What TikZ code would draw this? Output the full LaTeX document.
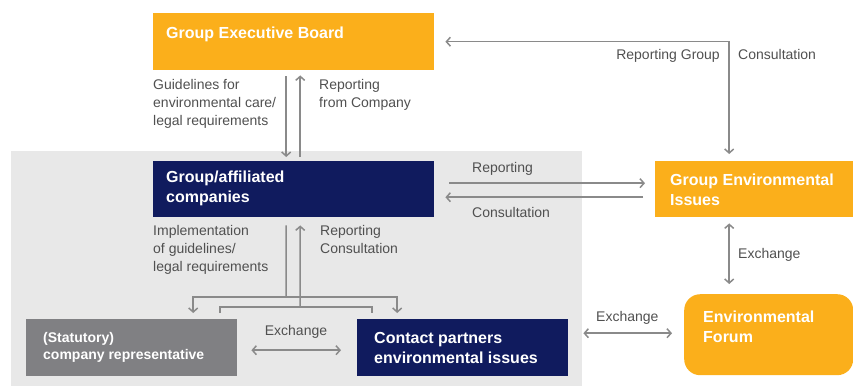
\documentclass[tikz,border=0pt]{standalone}
\usepackage{fontspec}
\setmainfont{Liberation Sans}
\usetikzlibrary{arrows.meta,calc}
\definecolor{orng}{HTML}{FBAF1B}
\definecolor{navy}{HTML}{101B5E}
\definecolor{boxgray}{HTML}{808083}
\definecolor{bggray}{HTML}{E8E8E8}
\definecolor{linegray}{HTML}{8A8A8A}
\definecolor{txtgray}{HTML}{505050}
\begin{document}
\begin{tikzpicture}[x=1pt,y=-1pt,
  box/.style={draw=none, inner sep=0pt, anchor=north west},
  btext/.style={anchor=west, inner sep=0pt, align=left, text=white, font=\fontsize{16}{20}\selectfont\bfseries},
  lbl/.style={inner sep=0pt, text=txtgray, font=\fontsize{14}{18}\selectfont, align=left},
  conn/.style={draw=linegray, line width=1.5pt},
  arr/.style={conn, -{Straight Barb[length=4pt,width=9pt]}},
  darr/.style={conn, {Straight Barb[length=4pt,width=9pt]}-{Straight Barb[length=4pt,width=9pt]}}]
\path[use as bounding box] (0,0) rectangle (853,386);
\node[box, fill=bggray, minimum width=571pt, minimum height=235pt] (bg) at (11,151) {};
% boxes
\node[box, fill=orng, minimum width=281pt, minimum height=57pt] (board) at (153,13) {};
\node[box, fill=navy, minimum width=281pt, minimum height=56pt] (comp) at (153,161) {};
\node[box, fill=orng, minimum width=198pt, minimum height=56pt] (gei) at (655,161) {};
\node[box, fill=boxgray, minimum width=211pt, minimum height=57pt] (stat) at (26,319) {};
\node[box, fill=navy, minimum width=211pt, minimum height=57pt] (cont) at (357,319) {};
\node[box, fill=orng, rounded corners=16pt, minimum width=169pt, minimum height=81pt] (forum) at (684,294) {};
% box texts
\node[btext] (boardT) at ($(board.west)+(13,-7)$) {Group Executive Board};
\node[btext] (compT) at ($(comp.west)+(13,-1)$) {Group/affiliated\\companies};
\node[btext] (geiT) at ($(gei.west)+(15,1)$) {Group Environmental\\Issues};
\node[btext, font=\fontsize{14}{17}\selectfont\bfseries] (statT) at ($(stat.west)+(17,0)$) {(Statutory)\\company representative};
\node[btext, font=\fontsize{16}{20}\selectfont\bfseries] (contT) at ($(cont.west)+(17,0)$) {Contact partners\\environmental issues};
\node[btext] (forumT) at ($(forum.west)+(19,-8)$) {Environmental\\Forum};
% labels
\node[lbl, anchor=north west] (l1) at (153,79) {Guidelines for\\environmental care/\\legal requirements};
\node[lbl, anchor=north west] (l2) at (319,79) {Reporting\\from Company};
\node[lbl, anchor=north east] (l3) at (720,49) {Reporting Group};
\node[lbl, anchor=north west] (l4) at (738,49) {Consultation};
\node[lbl, anchor=north west] (l5) at (472,162) {Reporting};
\node[lbl, anchor=north west] (l6) at (472,207) {Consultation};
\node[lbl, anchor=north west] (l7) at (153,225) {Implementation\\of guidelines/\\legal requirements};
\node[lbl, anchor=north west] (l8) at (320,225) {Reporting\\Consultation};
\node[lbl, anchor=north] (l9) at (296,325) {Exchange};
\node[lbl, anchor=north west] (l10) at (738,248) {Exchange};
\node[lbl, anchor=north west] (l11) at (596,311) {Exchange};
% connectors
\draw[arr] ($(board.south)+(-7.5,6)$) -- ($(comp.north)+(-7.5,-4)$);
\draw[arr] ($(comp.north)+(6.5,-4)$) -- ($(board.south)+(6.5,5)$);
\draw[darr] ($(board.east)+(11,0)$) -| ($(gei.north)+(-25,-7)$);
\draw[arr] ($(comp.east)+(15,-6)$) -- ($(gei.west)+(-10,-6)$);
\draw[arr] ($(gei.west)+(-12,8)$) -- ($(comp.east)+(11,8)$);
\coordinate (j1) at (286,297);
\coordinate (j2) at (300,307);
\draw[conn] ($(comp.south)+(-7.5,8)$) -- (j1);
\draw[arr] (j1) -| ($(stat.north)+(61.5,-6)$);
\draw[arr] (j1) -| ($(cont.north)+(-65.5,-6)$);
\draw[conn] ($(stat.north)+(88.5,-6)$) |- (j2) -| ($(cont.north)+(-90.5,-6)$);
\draw[arr] (j2) -- ($(comp.south)+(6.5,8)$);
\draw[darr] ($(stat.east)+(14,2.5)$) -- ($(cont.west)+(-16,2.5)$);
\draw[darr] ($(cont.east)+(15,-14.5)$) -- ($(forum.west)+(-12,-1.5)$);
\draw[darr] ($(gei.south)+(-25,6)$) -- ($(forum.north)+(-39.5,-10)$);
\end{tikzpicture}
\end{document}
